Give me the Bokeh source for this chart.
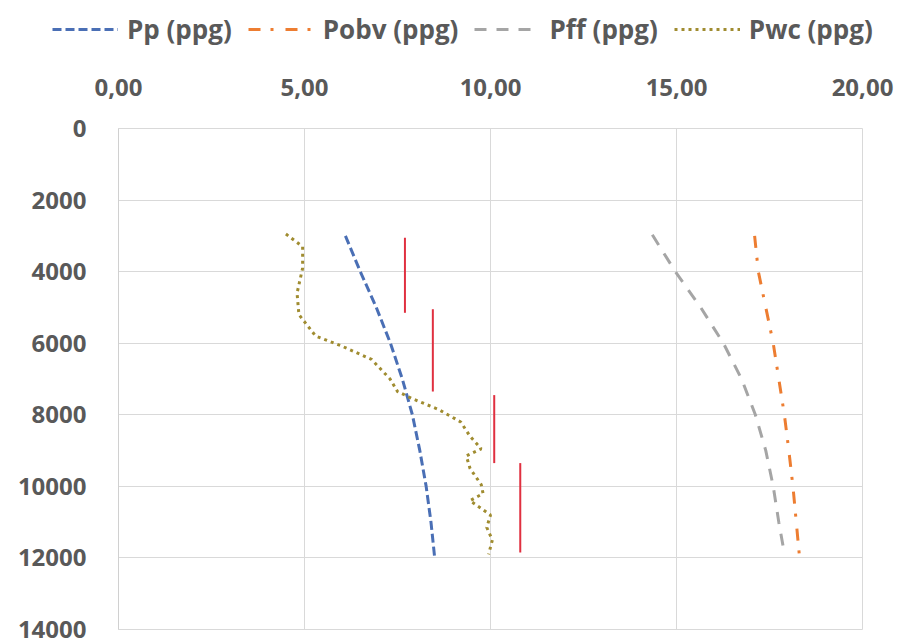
from bokeh.plotting import figure
from bokeh.layouts import column
from bokeh.models import Range1d, FixedTicker, CustomJSTickFormatter, Legend, LegendItem
from bokeh.embed import file_html
from bokeh.resources import INLINE

# ---- data ----
pp_depth = [3000, 4000, 5000, 6000, 7000, 8000, 9000, 10000, 11000, 12000]
pp_ppg = [6.10, 6.50, 6.93, 7.31, 7.63, 7.90, 8.10, 8.27, 8.40, 8.50]

pobv_depth = [3000, 4000, 5000, 6000, 7000, 8000, 9000, 10000, 11000, 11900]
pobv_ppg = [17.10, 17.20, 17.40, 17.60, 17.75, 17.90, 18.02, 18.13, 18.22, 18.30]

pff_depth = [2970, 4000, 5000, 6000, 7000, 8000, 9000, 10000, 11000, 11700]
pff_ppg = [14.35, 14.97, 15.65, 16.26, 16.75, 17.12, 17.40, 17.60, 17.75, 17.87]

pwc_depth = [2950, 3300, 3900, 4600, 5200, 5800, 6080, 6450, 7000, 7350, 7550, 7850,
             8200, 8600, 8950, 9150, 9500, 9950, 10200, 10400, 10800, 11150, 11500, 11900]
pwc_ppg = [4.50, 4.95, 4.95, 4.80, 4.85, 5.30, 6.00, 6.80, 7.30, 7.50, 7.90, 8.60,
           9.20, 9.45, 9.75, 9.35, 9.45, 9.75, 9.80, 9.45, 10.00, 9.90, 10.05, 9.95]

mud_ppg = [7.70, 8.45, 10.10, 10.80]
mud_top = [3050, 5050, 7450, 9350]
mud_bottom = [5150, 7350, 9350, 11850]

series_names = ["Pp (ppg)", "Pobv (ppg)", "Pff (ppg)", "Pwc (ppg)"]
x_ticks = [0, 5, 10, 15, 20]
y_ticks = [0, 2000, 4000, 6000, 8000, 10000, 12000, 14000]

FONT = "Open Sans"
TXT = "#595959"
styles = [dict(line_color="#4A6FB5", line_width=3, line_dash="9 4"),
          dict(line_color="#ED7D31", line_width=3, line_dash="12 10 3 12"),
          dict(line_color="#A5A5A5", line_width=3, line_dash="12 10"),
          dict(line_color="#A08C30", line_width=3, line_dash="3 4")]
series = [(pp_ppg, pp_depth), (pobv_ppg, pobv_depth), (pff_ppg, pff_depth), (pwc_ppg, pwc_depth)]

# ---- main chart ----
p = figure(width=903, height=584, output_backend="svg", toolbar_location=None,
           x_range=Range1d(0, 20), y_range=Range1d(14000, 0),
           x_axis_location="above")
p.frame_align = False
p.min_border_left = 118
p.min_border_right = 41
p.min_border_top = 68
p.min_border_bottom = 15
p.outline_line_color = "#D9D9D9"

p.xaxis.ticker = FixedTicker(ticks=x_ticks)
p.yaxis.ticker = FixedTicker(ticks=y_ticks)
p.xaxis.formatter = CustomJSTickFormatter(code="return tick.toFixed(2).replace('.', ',');")
for ax in (p.xaxis[0], p.yaxis[0]):
    ax.major_label_text_font = FONT
    ax.major_label_text_font_style = "bold"
    ax.major_label_text_font_size = "24px"
    ax.major_label_text_color = TXT
    ax.major_tick_line_color = None
    ax.minor_tick_line_color = None
p.xaxis.axis_line_color = None
p.yaxis.axis_line_color = "#D0D0D0"
p.xaxis.major_label_standoff = 27
p.yaxis.major_label_standoff = 26

p.grid.grid_line_color = "#D9D9D9"
p.grid.grid_line_width = 1

for (xs, ys), st in zip(series, styles):
    p.line(xs, ys, **st)
p.segment(x0=mud_ppg, y0=mud_top, x1=mud_ppg, y1=mud_bottom, line_color="#E03040", line_width=2)

# ---- legend strip (own frame spanning the full width) ----
lg = figure(width=903, height=60, output_backend="svg", toolbar_location=None,
            x_range=Range1d(0, 20), y_range=Range1d(-2, -1))
lg.frame_align = False
lg.min_border_left = 0
lg.min_border_right = 0
lg.min_border_top = 0
lg.min_border_bottom = 0
lg.axis.visible = False
lg.grid.visible = False
lg.outline_line_color = None
items = []
for name, (xs, ys), st in zip(series_names, series, styles):
    r = lg.line(xs, ys, **st)   # same series; out of this strip's view, used only for legend samples
    items.append(LegendItem(label=name, renderers=[r]))
legend = Legend(items=items, orientation="horizontal", location=(52, 13))
legend.label_text_font = FONT
legend.label_text_font_style = "bold"
legend.label_text_font_size = "26px"
legend.label_text_color = TXT
legend.glyph_width = 66
legend.glyph_height = 24
legend.label_height = 24
legend.label_standoff = 9
legend.spacing = 16
legend.padding = 0
legend.margin = 0
legend.border_line_color = None
legend.background_fill_alpha = 0
lg.add_layout(legend)

layout = column(lg, p, spacing=0)
open("out.html", "w").write(file_html(layout, INLINE))
